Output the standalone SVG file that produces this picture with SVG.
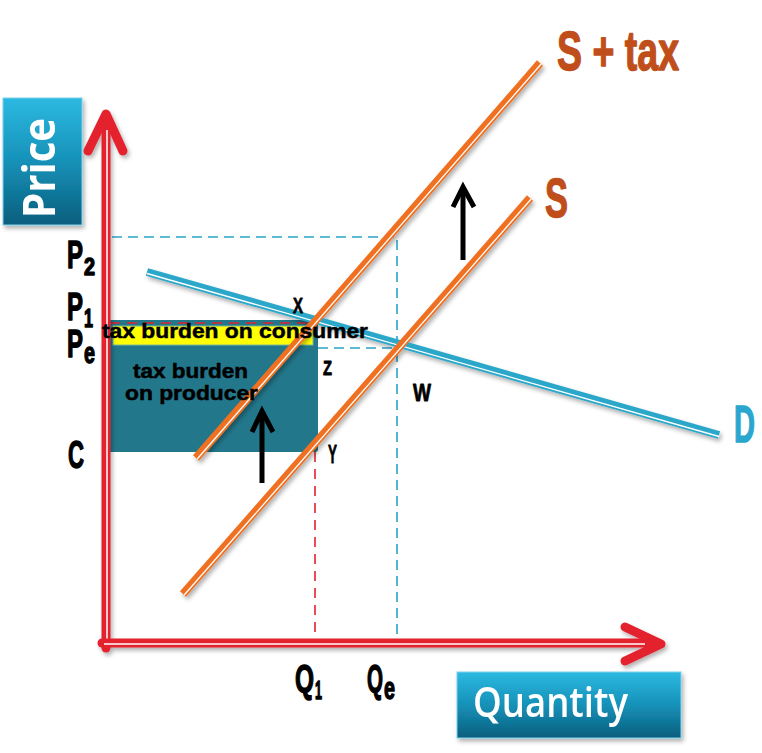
<svg xmlns="http://www.w3.org/2000/svg" width="762" height="753" viewBox="0 0 762 753">
<defs>
<linearGradient id="boxg" x1="0" y1="0" x2="0" y2="1">
<stop offset="0" stop-color="#2CB9E1"/>
<stop offset="0.5" stop-color="#1691B8"/>
<stop offset="1" stop-color="#0A5E7D"/>
</linearGradient>
<filter id="sh" x="-10%" y="-10%" width="130%" height="130%">
<feDropShadow dx="2" dy="3" stdDeviation="2" flood-color="#000" flood-opacity="0.3"/>
</filter>
<style>
.lbl{font-family:"Liberation Sans",Arial,sans-serif;font-weight:bold;fill:#000;stroke:#000;stroke-width:1.4;stroke-linejoin:round}
.box{fill:url(#boxg);stroke:#7fd2ec;stroke-width:1}
.axis{stroke:#E3222F;stroke-width:9;fill:none;stroke-linecap:round;stroke-linejoin:round}
.axisw{stroke:#fff;stroke-width:1.5;fill:none}
.sup{stroke:#F07022;stroke-width:8;fill:none}
.dem{stroke:#2BA7C9;stroke-width:8;fill:none}
.wl{stroke:#fff;stroke-width:1.3;fill:none}
.dashb{stroke:#2BA4C8;stroke-width:1.6;fill:none;stroke-dasharray:10 6}
.dashr{stroke:#E3222F;stroke-width:1.6;fill:none;stroke-dasharray:10 7}
.blk{stroke:#000;stroke-width:5;fill:none}
.txt{font-family:"Liberation Sans",Arial,sans-serif;font-weight:bold;fill:#000;font-size:21px;stroke:#000;stroke-width:0.5}
.or{fill:#C04E1B;stroke:#C04E1B}
.bl{fill:#2AA6CF;stroke:#2AA6CF}
</style>
</defs>
<rect width="762" height="753" fill="#fff"/>

<g id="price-box" filter="url(#sh)">
<rect class="box" x="3" y="98" width="79" height="127"/>
<text transform="translate(55,218) rotate(-90)" font-family="'Open Sans','Liberation Sans',sans-serif" font-weight="bold" font-size="44" fill="#fff" textLength="100" lengthAdjust="spacingAndGlyphs">Price</text>
</g>
<g id="quantity-box" filter="url(#sh)">
<rect class="box" x="457" y="672" width="224" height="66"/>
<text x="473" y="717" font-family="'Open Sans','Liberation Sans',sans-serif" font-weight="600" font-size="42" fill="#fff" textLength="155" lengthAdjust="spacingAndGlyphs">Quantity</text>
</g>

<g id="guides">
<path class="dashb" d="M112 237H397V641"/>
<path class="dashb" d="M318 348H397"/>
<path class="dashr" d="M315 452V641"/>
</g>

<g id="areas">
<rect x="108" y="320" width="210" height="132" rx="3" fill="#23778B"/>
<rect x="113" y="326" width="200" height="19" fill="#FFFF00" stroke="#7db89a" stroke-width="1"/>
<path class="dashr" d="M110 323H313"/>
</g>

<g id="axes" filter="url(#sh)">
<path class="axis" d="M106 648V116"/>
<path class="axis" d="M88 151L106 114L123 151"/>
<path class="axisw" d="M107 646V130"/>
<path class="axis" d="M102 643H658"/>
<path class="axis" d="M625 627L661 644L625 661"/>
<path class="axisw" d="M104 644H645"/>
</g>

<g id="connectors" filter="url(#sh)">
<g id="demand">
<path class="dem" d="M147 272L719 435"/>
<path class="wl" d="M147 273.5L719 436.5"/>
</g>
<g id="supply">
<path class="sup" d="M183 594L530 198"/>
<path class="wl" d="M184.2 595L531.2 199"/>
</g>
<g id="supply-tax">
<path class="sup" d="M196 458L540 63"/>
<path class="wl" d="M197.2 459L541.2 64"/>
</g>
</g>

<g id="shift-arrows">
<path class="blk" d="M262 483V414"/>
<path class="blk" d="M252 432L262 411L273 432" stroke-linejoin="miter"/>
<path class="blk" d="M463 260V190"/>
<path class="blk" d="M453 207L463 187L474 207" stroke-linejoin="miter"/>
</g>

<g id="burden-labels">
<text class="txt" x="102" y="338" textLength="266" lengthAdjust="spacingAndGlyphs">tax burden on consumer</text>
<text class="txt" x="133" y="378" textLength="115" lengthAdjust="spacingAndGlyphs">tax burden</text>
<text class="txt" x="125" y="400" textLength="133" lengthAdjust="spacingAndGlyphs">on producer</text>
</g>

<g id="axis-labels">
<text class="lbl" x="67" y="268" font-size="39" textLength="16" lengthAdjust="spacingAndGlyphs">P</text>
<text class="lbl" x="84" y="275" font-size="23" textLength="11" lengthAdjust="spacingAndGlyphs">2</text>
<text class="lbl" x="67" y="320" font-size="39" textLength="16" lengthAdjust="spacingAndGlyphs">P</text>
<text class="lbl" x="84" y="327" font-size="26" textLength="9" lengthAdjust="spacingAndGlyphs">1</text>
<text class="lbl" x="67" y="357" font-size="39" textLength="16" lengthAdjust="spacingAndGlyphs">P</text>
<text class="lbl" x="84" y="363" font-size="30" textLength="11" lengthAdjust="spacingAndGlyphs">e</text>
<text class="lbl" x="68" y="468" font-size="38" textLength="16" lengthAdjust="spacingAndGlyphs">C</text>
<text class="lbl" x="295" y="692" font-size="38" textLength="19" lengthAdjust="spacingAndGlyphs">Q</text>
<text class="lbl" x="315" y="699" font-size="26" textLength="7" lengthAdjust="spacingAndGlyphs">1</text>
<text class="lbl" x="367" y="692" font-size="38" textLength="16" lengthAdjust="spacingAndGlyphs">Q</text>
<text class="lbl" x="384" y="699" font-size="32" textLength="11" lengthAdjust="spacingAndGlyphs">e</text>
</g>

<g id="point-labels">
<text class="lbl" x="293" y="313" font-size="22" textLength="10" lengthAdjust="spacingAndGlyphs" style="stroke-width:0.8">X</text>
<text class="lbl" x="323" y="375" font-size="21" textLength="9" lengthAdjust="spacingAndGlyphs" style="stroke-width:0.8">Z</text>
<text class="lbl" x="413" y="401" font-size="23" textLength="18" lengthAdjust="spacingAndGlyphs" style="stroke-width:0.8">W</text>
<text class="lbl" x="328" y="463" font-size="25" textLength="9" lengthAdjust="spacingAndGlyphs" style="stroke-width:0.8">Y</text>
</g>

<g id="curve-labels">
<text class="lbl or" x="557" y="70" font-size="56" textLength="122" lengthAdjust="spacingAndGlyphs">S + tax</text>
<text class="lbl or" x="545" y="217" font-size="56" textLength="23" lengthAdjust="spacingAndGlyphs">S</text>
<text class="lbl bl" x="734" y="442" font-size="52" textLength="21" lengthAdjust="spacingAndGlyphs">D</text>
</g>
</svg>
